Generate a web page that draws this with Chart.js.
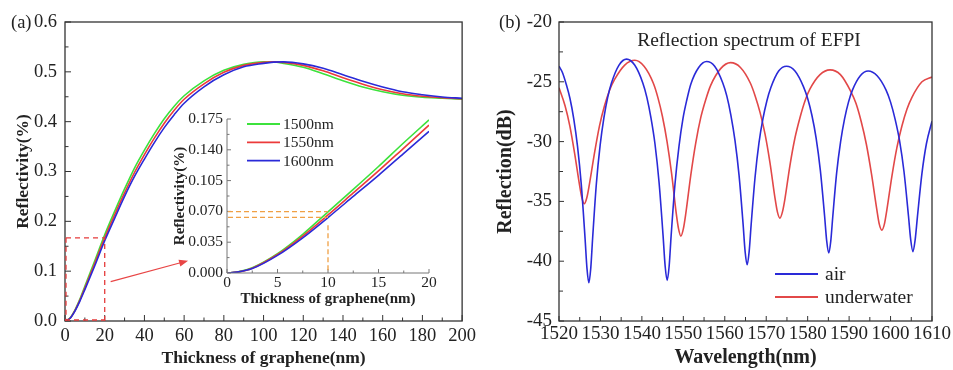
<!DOCTYPE html>
<html><head><meta charset="utf-8">
<script src="https://cdn.jsdelivr.net/npm/chart.js@4.4.1/dist/chart.umd.min.js"></script>
<style>
html,body{margin:0;padding:0;background:#fff;}
#wrap{position:relative;width:953px;height:370px;overflow:hidden;font-family:'Liberation Serif','Times New Roman',serif;color:#222;}
canvas{position:absolute;}
.lbl{position:absolute;font-size:18.5px;white-space:nowrap;line-height:1;}
</style></head><body>
<div id="wrap">
<canvas id="ca" width="480" height="370" style="left:0;top:0;width:480px;height:370px"></canvas>
<canvas id="ci" width="270" height="205" style="left:170px;top:105px;width:270px;height:205px"></canvas>
<canvas id="cb" width="463" height="370" style="left:490px;top:0;width:463px;height:370px"></canvas>
<div class="lbl" style="left:11px;top:13px">(a)</div>
<div class="lbl" style="left:499px;top:13px">(b)</div>
<div class="lbl" style="left:599px;top:30px;width:300px;text-align:center;font-size:19.5px">Reflection spectrum of EFPI</div>
</div>
<script>
// ---------- Panel (a): main curves ----------
const thickness = [0, 2.5, 5, 7.5, 10, 15, 20, 25, 30, 35, 40, 45, 50, 55, 60, 70, 80, 90, 100, 105, 110, 120, 130, 140, 150, 160, 170, 180, 190, 200];
const refl1500 = [0, 0.006, 0.022, 0.044, 0.0695, 0.121, 0.173, 0.220, 0.265, 0.307, 0.343, 0.376, 0.406, 0.431, 0.452, 0.482, 0.503, 0.515, 0.520, 0.5198, 0.517, 0.509, 0.496, 0.482, 0.4695, 0.460, 0.453, 0.449, 0.447, 0.445];
const refl1550 = [0, 0.0055, 0.021, 0.042, 0.066, 0.116, 0.167, 0.213, 0.257, 0.298, 0.334, 0.367, 0.397, 0.423, 0.445, 0.476, 0.499, 0.513, 0.519, 0.520, 0.519, 0.513, 0.502, 0.488, 0.475, 0.464, 0.456, 0.451, 0.448, 0.446];
const refl1600 = [0, 0.005, 0.020, 0.040, 0.063, 0.111, 0.161, 0.206, 0.250, 0.290, 0.325, 0.358, 0.388, 0.414, 0.437, 0.470, 0.494, 0.510, 0.517, 0.5195, 0.520, 0.516, 0.507, 0.494, 0.481, 0.4695, 0.460, 0.454, 0.4495, 0.447];
const mainXTicks = [0, 20, 40, 60, 80, 100, 120, 140, 160, 180, 200];
const mainYTicks = [0, 0.1, 0.2, 0.3, 0.4, 0.5, 0.6];
const mainMarker = [20, 0.167];            // dashed box corner (thickness, reflectivity)
const mainArrow = [[23, 0.079], [62, 0.121]]; // arrow from / to (thickness, reflectivity)

// ---------- Panel (a): inset ----------
const insetThickness = [0, 1, 2.5, 5, 7.5, 10, 12.5, 15, 17.5, 20];
const inset1500 = [0, 0.001, 0.006, 0.022, 0.044, 0.0695, 0.095, 0.121, 0.148, 0.174];
const inset1550 = [0, 0.001, 0.0055, 0.021, 0.042, 0.066, 0.091, 0.116, 0.142, 0.168];
const inset1600 = [0, 0.001, 0.005, 0.020, 0.040, 0.063, 0.087, 0.111, 0.136, 0.161];
const insetXTicks = [0, 5, 10, 15, 20];
const insetYTicks = [0, 0.035, 0.070, 0.105, 0.140, 0.175];
const insetMarkerX = 10;
const insetMarkerY = [0.0697, 0.0633];
const wavelengthLabels = ['1500nm', '1550nm', '1600nm'];

// ---------- Panel (b) ----------
const airWavelength = [
1520, 1520.8, 1521.74, 1522.65, 1523.56, 1524.47, 1525.38, 1526.29, 1526.75, 1527.2,
1527.66, 1528.11, 1529.02, 1529.93, 1530.84, 1531.75, 1532.66, 1534.48, 1536.3,
1538.26, 1540.22, 1541.2, 1542.18, 1543.16, 1544.14, 1545.12, 1545.61, 1546.1,
1546.58, 1547.05, 1548.0, 1548.95, 1549.9, 1550.85, 1551.8, 1553.7, 1555.6,
1557.56, 1559.52, 1560.5, 1561.48, 1562.46, 1563.44, 1564.42, 1564.91, 1565.4,
1565.88, 1566.35, 1567.3, 1568.25, 1569.2, 1570.15, 1571.1, 1573.0, 1574.9,
1576.94, 1578.98, 1580.0, 1581.02, 1582.04, 1583.06, 1584.08, 1584.59, 1585.1,
1585.58, 1586.05, 1587.0, 1587.95, 1588.9, 1589.85, 1590.8, 1592.7, 1594.6,
1596.76, 1598.92, 1600.0, 1601.08, 1602.16, 1603.24, 1604.32, 1604.86, 1605.4,
1605.94, 1606.48, 1607.56, 1608.64, 1610];
const airReflection = [
-23.7, -24.2, -25.2, -26.4, -28.1, -30.4, -33.6, -38.1, -40.6, -41.8,
-40.6, -38.1, -33.5, -30.3, -28.0, -26.3, -25.1, -23.6, -23.1,
-23.6, -25.1, -26.3, -28.0, -30.2, -33.4, -37.9, -40.4, -41.6,
-40.4, -37.9, -33.5, -30.4, -28.1, -26.5, -25.2, -23.8, -23.3,
-23.7, -25.1, -26.2, -27.8, -29.9, -32.8, -36.9, -39.2, -40.3,
-39.2, -37.0, -33.0, -30.1, -28.1, -26.6, -25.5, -24.1, -23.7,
-24.1, -25.4, -26.4, -27.8, -29.7, -32.4, -36.2, -38.3, -39.3,
-38.3, -36.3, -32.6, -30.0, -28.1, -26.7, -25.7, -24.5, -24.1,
-24.5, -25.7, -26.7, -28.1, -29.9, -32.5, -36.2, -38.2, -39.2,
-38.2, -36.3, -32.7, -30.2, -28.3];
const waterWavelength = [
1520, 1521.46, 1522.62, 1523.78, 1524.94, 1525.52, 1526.1,
1526.71, 1527.32, 1528.54, 1529.76, 1530.98, 1532.2, 1533.42, 1535.86, 1538.3,
1540.52, 1542.74, 1543.85, 1544.96, 1546.07, 1547.18, 1548.29, 1548.85, 1549.4,
1550.0, 1550.6, 1551.8, 1553.0, 1554.2, 1555.4, 1556.6, 1559.0, 1561.4,
1563.78, 1566.16, 1567.35, 1568.54, 1569.73, 1570.92, 1572.11, 1572.71, 1573.3,
1573.9, 1574.51, 1575.72, 1576.93, 1578.14, 1579.35, 1580.56, 1582.98, 1585.4,
1587.9, 1590.4, 1591.65, 1592.9, 1594.15, 1595.4, 1596.65, 1597.28, 1597.9,
1598.51, 1599.11, 1600.32, 1601.53, 1602.74, 1603.95, 1605.16, 1607.58, 1610];
const waterReflection = [
-25.5, -27.0, -28.7, -31.0, -33.6, -34.7, -35.2,
-34.7, -33.6, -31.0, -28.7, -27.0, -25.7, -24.8, -23.6, -23.2,
-23.7, -25.1, -26.3, -27.9, -30.0, -32.7, -36.0, -37.3, -37.9,
-37.3, -36.0, -32.8, -30.1, -28.0, -26.5, -25.3, -23.9, -23.4,
-23.8, -25.1, -26.2, -27.6, -29.4, -31.8, -34.7, -35.9, -36.4,
-35.9, -34.8, -32.0, -29.7, -28.0, -26.6, -25.6, -24.4, -24.0,
-24.4, -25.8, -26.8, -28.3, -30.2, -32.7, -35.6, -36.9, -37.4,
-36.9, -35.7, -32.9, -30.5, -28.7, -27.3, -26.3, -25.0, -24.6];
const specXTicks = [1520, 1530, 1540, 1550, 1560, 1570, 1580, 1590, 1600, 1610];
const specYTicks = [-45, -40, -35, -30, -25, -20];
const mediumLabels = ['air', 'underwater'];

// ---------- helpers ----------
const SERIF = "'Liberation Serif','Times New Roman',serif";
const INK = '#222';
const GREEN = '#3ce23c', RED = '#ec3a3a', BLUE = '#2a2ad8';
const pts = (xs, ys) => xs.map((x, i) => ({x, y: ys[i]}));
const setTicks = arr => function(s){ s.ticks = arr.map(v => ({value: v})); };

function lineDs(label, xs, ys, color, order){
  return {label, data: pts(xs, ys), borderColor: color, backgroundColor: color, borderWidth: 1.6,
    pointRadius: 0, fill: false, cubicInterpolationMode: 'monotone', order};
}

function axis(cfg){
  return {
    type: 'linear', min: cfg.min, max: cfg.max, afterBuildTicks: setTicks(cfg.ticks),
    ticks: {autoSkip: false, maxRotation: 0, minRotation: 0, padding: cfg.pad, color: INK,
      font: {family: SERIF, size: cfg.fs}, callback: cfg.fmt || (v => String(v))},
    grid: {display: false, drawTicks: false, tickLength: 0}, border: {display: false},
    title: {display: true, text: cfg.title, color: INK, font: {family: SERIF, size: cfg.tfs, weight: 'bold'}, padding: cfg.tpad},
    afterFit: cfg.fit
  };
}

// inner ticks + frame
const frameTicks = {
  id: 'frameTicks',
  afterDatasetsDraw(chart, args, o){
    const {ctx, chartArea: a} = chart;
    const xs = chart.scales.x, ys = chart.scales.y;
    ctx.save();
    ctx.strokeStyle = o.color; ctx.lineWidth = o.width;
    if (o.box) ctx.strokeRect(a.left, a.top, a.right - a.left, a.bottom - a.top);
    else { ctx.beginPath(); ctx.moveTo(a.left, a.top); ctx.lineTo(a.left, a.bottom); ctx.lineTo(a.right, a.bottom); ctx.stroke(); }
    ctx.lineWidth = o.tickWidth;
    ctx.beginPath();
    const xv = xs.ticks.map(t => t.value), yv = ys.ticks.map(t => t.value);
    xv.forEach((v, i) => {
      const p = xs.getPixelForValue(v);
      ctx.moveTo(p, a.bottom); ctx.lineTo(p, a.bottom - o.major);
      if (i < xv.length - 1){ const m = xs.getPixelForValue((v + xv[i+1]) / 2); ctx.moveTo(m, a.bottom); ctx.lineTo(m, a.bottom - o.minor); }
    });
    yv.forEach((v, i) => {
      const p = ys.getPixelForValue(v);
      ctx.moveTo(a.left, p); ctx.lineTo(a.left + o.major, p);
      if (i < yv.length - 1){ const m = ys.getPixelForValue((v + yv[i+1]) / 2); ctx.moveTo(a.left, m); ctx.lineTo(a.left + o.minor, m); }
    });
    ctx.stroke();
    ctx.restore();
  }
};

function drawLegend(chart, o){
  const ctx = chart.ctx;
  ctx.save();
  ctx.font = o.fs + 'px ' + SERIF; ctx.fillStyle = INK; ctx.textBaseline = 'middle'; ctx.textAlign = 'left';
  o.items.forEach((idx, k) => {
    const ds = chart.data.datasets[idx];
    const y = o.y + k * o.dy;
    ctx.strokeStyle = ds.borderColor; ctx.lineWidth = 1.8;
    ctx.beginPath(); ctx.moveTo(o.x, y); ctx.lineTo(o.x + o.len, y); ctx.stroke();
    ctx.fillText(ds.label, o.x + o.len + o.gap, y + 1);
  });
  ctx.restore();
}

const baseOpts = pad => ({
  responsive: false, animation: false, devicePixelRatio: 1, events: [],
  layout: {padding: pad},
  plugins: {legend: {display: false}, tooltip: {enabled: false}}
});

// ---------- chart (a) main ----------
const optsA = baseOpts({left: 0, top: 22, right: 13, bottom: 0});
optsA.scales = {
  x: axis({min: 0, max: 200, ticks: mainXTicks, pad: 4, fs: 18.5, title: 'Thickness of graphene(nm)', tfs: 17.5, tpad: {top: 0, bottom: 1}, fit: s => { s.height = 49; }}),
  y: axis({min: 0, max: 0.6, ticks: mainYTicks, pad: 8, fs: 18.5, fmt: v => v.toFixed(1), title: 'Reflectivity(%)', tfs: 17.5, tpad: {top: 13, bottom: 0}, fit: s => { s.width = 65; }})
};
optsA.plugins.frameTicks = {color: '#333', width: 1.3, tickWidth: 1, major: 6, minor: 3.5, box: true};
new Chart(document.getElementById('ca'), {
  type: 'line',
  data: {datasets: [
    lineDs(wavelengthLabels[0], thickness, refl1500, GREEN, 3),
    lineDs(wavelengthLabels[1], thickness, refl1550, RED, 2),
    lineDs(wavelengthLabels[2], thickness, refl1600, BLUE, 1)
  ]},
  options: optsA,
  plugins: [frameTicks, {
    id: 'guideA',
    afterDatasetsDraw(chart){
      const {ctx, scales: {x, y}} = chart;
      const gx = x.getPixelForValue(mainMarker[0]), gy = y.getPixelForValue(mainMarker[1]);
      const x0 = x.getPixelForValue(0), y0 = y.getPixelForValue(0);
      ctx.save();
      ctx.strokeStyle = '#e53b3b'; ctx.lineWidth = 1.3; ctx.setLineDash([5, 4]);
      ctx.beginPath();
      ctx.moveTo(x0 + 1, gy); ctx.lineTo(gx, gy); ctx.lineTo(gx, y0);
      ctx.moveTo(x0 + 1, gy); ctx.lineTo(x0 + 1, y0);
      ctx.moveTo(x0, y0 - 1); ctx.lineTo(gx, y0 - 1);
      ctx.stroke();
      ctx.setLineDash([]);
      const ax = x.getPixelForValue(mainArrow[0][0]), ay = y.getPixelForValue(mainArrow[0][1]);
      const bx = x.getPixelForValue(mainArrow[1][0]), by = y.getPixelForValue(mainArrow[1][1]);
      const ang = Math.atan2(by - ay, bx - ax);
      ctx.strokeStyle = '#e84545'; ctx.fillStyle = '#e84545'; ctx.lineWidth = 1.2;
      ctx.beginPath(); ctx.moveTo(ax, ay); ctx.lineTo(bx - 6 * Math.cos(ang), by - 6 * Math.sin(ang)); ctx.stroke();
      ctx.beginPath();
      ctx.moveTo(bx, by);
      ctx.lineTo(bx - 9 * Math.cos(ang) + 3.5 * Math.sin(ang), by - 9 * Math.sin(ang) - 3.5 * Math.cos(ang));
      ctx.lineTo(bx - 9 * Math.cos(ang) - 3.5 * Math.sin(ang), by - 9 * Math.sin(ang) + 3.5 * Math.cos(ang));
      ctx.closePath(); ctx.fill();
      ctx.restore();
    }
  }]
});

// ---------- chart (a) inset ----------
const optsI = baseOpts({left: 0, top: 14, right: 11, bottom: 0});
optsI.scales = {
  x: axis({min: 0, max: 20, ticks: insetXTicks, pad: 1, fs: 15.5, title: 'Thickness of graphene(nm)', tfs: 15, tpad: {top: 0, bottom: 2}, fit: s => { s.height = 37; }}),
  y: axis({min: 0, max: 0.175, ticks: insetYTicks, pad: 4, fs: 15.5, fmt: v => v.toFixed(3), title: 'Reflectivity(%)', tfs: 15, tpad: {top: 1, bottom: 0}, fit: s => { s.width = 57; }})
};
optsI.plugins.frameTicks = {color: '#777', width: 1, tickWidth: 1, major: 4, minor: 2.5, box: false};
new Chart(document.getElementById('ci'), {
  type: 'line',
  data: {datasets: [
    lineDs(wavelengthLabels[0], insetThickness, inset1500, GREEN, 3),
    lineDs(wavelengthLabels[1], insetThickness, inset1550, RED, 2),
    lineDs(wavelengthLabels[2], insetThickness, inset1600, BLUE, 1)
  ]},
  options: optsI,
  plugins: [frameTicks, {
    id: 'guideI',
    afterDatasetsDraw(chart){
      const {ctx, scales: {x, y}} = chart;
      const x0 = x.getPixelForValue(0), gx = x.getPixelForValue(insetMarkerX), y0 = y.getPixelForValue(0);
      ctx.save();
      ctx.strokeStyle = '#f0a045'; ctx.lineWidth = 1.3; ctx.setLineDash([5, 3]);
      ctx.beginPath();
      insetMarkerY.forEach(v => { const p = y.getPixelForValue(v); ctx.moveTo(x0 + 1, p); ctx.lineTo(gx, p); });
      ctx.moveTo(gx, y.getPixelForValue(insetMarkerY[1]) + 8); ctx.lineTo(gx, y0);
      ctx.stroke();
      ctx.restore();
      drawLegend(chart, {x: 77, y: 19, dy: 18.3, len: 33, gap: 3, fs: 15.5, items: [0, 1, 2]});
    }
  }]
});

// ---------- chart (b) ----------
const optsB = baseOpts({left: 0, top: 22, right: 21, bottom: 0});
optsB.scales = {
  x: axis({min: 1520, max: 1610, ticks: specXTicks, pad: 2, fs: 19, title: 'Wavelength(nm)', tfs: 20, tpad: {top: 0, bottom: 0}, fit: s => { s.height = 49; }}),
  y: axis({min: -45, max: -20, ticks: specYTicks, pad: 7, fs: 19, title: 'Reflection(dB)', tfs: 20, tpad: {top: 4, bottom: 0}, fit: s => { s.width = 69; }})
};
optsB.plugins.frameTicks = {color: '#333', width: 1.3, tickWidth: 1, major: 5, minor: 4, box: true};
new Chart(document.getElementById('cb'), {
  type: 'line',
  data: {datasets: [
    lineDs(mediumLabels[0], airWavelength, airReflection, BLUE, 1),
    lineDs(mediumLabels[1], waterWavelength, waterReflection, '#e24848', 2)
  ]},
  options: optsB,
  plugins: [frameTicks, {
    id: 'legendB',
    afterDatasetsDraw(chart){ drawLegend(chart, {x: 285, y: 274, dy: 23, len: 43, gap: 7, fs: 19.5, items: [0, 1]}); }
  }]
});
</script>
</body></html>
